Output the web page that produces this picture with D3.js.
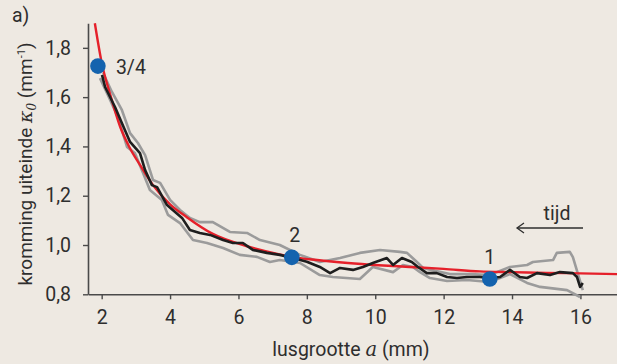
<!DOCTYPE html>
<html><head><meta charset="utf-8">
<script src="https://cdn.jsdelivr.net/npm/d3@7"></script>
<style>
html,body{margin:0;padding:0;background:#EEE9E2;}
svg{display:block;font-family:Roboto,"Noto Sans",sans-serif;}
</style></head><body>
<svg id="c" width="617" height="364"></svg>
<script>
// ---- data ----
const xTicks = [2, 4, 6, 8, 10, 12, 14, 16];
const yTicks = [0.8, 1.0, 1.2, 1.4, 1.6, 1.8];

// black: mean curve  [a, kappa]
const blackA = [2.01,2.10,2.39,2.59,2.83,3.12,3.27,3.47,3.62,3.91,4.35,4.58,4.87,5.17,5.55,5.84,6.13,6.42,6.83,7.21,7.59,8.00,8.38,8.68,8.97,9.35,9.64,9.93,10.34,10.52,10.78,11.07,11.25,11.51,11.80,12.10,12.39,12.68,13.06,13.35,13.65,13.94,14.23,14.44,14.73,15.11,15.40,15.78,15.90,15.99,16.07];
const blackK = [1.690,1.641,1.560,1.495,1.418,1.373,1.304,1.243,1.235,1.162,1.110,1.061,1.049,1.041,1.020,1.008,1.008,0.980,0.968,0.960,0.947,0.932,0.911,0.886,0.907,0.899,0.911,0.927,0.947,0.919,0.947,0.931,0.911,0.886,0.886,0.870,0.866,0.870,0.870,0.866,0.870,0.899,0.870,0.866,0.886,0.878,0.890,0.886,0.870,0.830,0.846];

// grey upper band
const upperA = [2.04,2.30,2.59,2.83,3.06,3.27,3.50,3.71,4.00,4.29,4.58,4.87,5.25,5.75,6.25,6.63,7.21,7.80,8.38,8.97,9.55,10.14,10.72,10.93,11.22,11.40,11.75,12.18,12.77,13.35,13.94,14.44,14.61,15.20,15.31,15.69,15.78,16.07];
const upperK = [1.698,1.621,1.548,1.454,1.414,1.365,1.264,1.252,1.183,1.142,1.110,1.093,1.093,1.053,1.049,1.020,1.000,0.960,0.931,0.947,0.968,0.980,0.972,0.968,0.931,0.907,0.895,0.882,0.882,0.878,0.911,0.919,0.931,0.939,0.968,0.972,0.951,0.817];

// grey lower band
const lowerA = [1.95,2.18,2.45,2.59,2.74,2.97,3.21,3.41,3.76,3.94,4.29,4.67,5.08,5.55,6.04,6.54,6.92,7.21,7.80,8.38,8.76,9.55,9.93,10.52,10.81,11.10,11.31,11.60,12.10,12.68,13.35,13.94,14.44,14.82,15.61,15.99];
const lowerK = [1.677,1.609,1.527,1.467,1.398,1.373,1.292,1.223,1.183,1.122,1.089,1.020,1.008,0.988,0.960,0.952,0.931,0.939,0.927,0.878,0.870,0.862,0.911,0.890,0.919,0.911,0.890,0.866,0.854,0.858,0.850,0.882,0.846,0.830,0.817,0.789];

// red fitted curve
const redA = [1.80,2.00,2.25,2.54,2.80,3.12,3.50,4.00,4.50,5.25,6.25,7.20,7.56,8.30,9.20,10.10,11.00,12.00,13.06,14.00,15.00,16.00,17.07];
const redK = [1.900,1.740,1.610,1.480,1.400,1.325,1.243,1.165,1.112,1.045,0.995,0.962,0.952,0.939,0.927,0.918,0.911,0.903,0.893,0.890,0.887,0.885,0.882];

// marked points
const dotLabels = ["3/4", "2", "1"];
const dotA = [1.89, 7.56, 13.35];
const dotK = [1.726, 0.950, 0.862];

// ---- drawing ----
const svg = d3.select("#c");
const x = d3.scaleLinear().domain([1.6, 17.07]).range([88, 617]);
const y = d3.scaleLinear().domain([0.8, 1.9]).range([294.3, 23.2]);
const ink = "#2e2e2e";
const fmt = d => d3.format(".1f")(d).replace(".", ",");

const xAxis = svg.append("g").attr("transform", `translate(0,${y(0.8)})`)
  .call(d3.axisBottom(x).tickValues(xTicks).tickSize(5).tickSizeOuter(0).tickPadding(11));
const yAxis = svg.append("g").attr("transform", `translate(${x(1.6)},0)`)
  .call(d3.axisLeft(y).tickValues(yTicks).tickFormat(fmt).tickSize(5).tickSizeOuter(0).tickPadding(12));
[xAxis, yAxis].forEach(g => {
  g.select(".domain").attr("stroke", "#4a4a4a").attr("stroke-width", 1.6);
  g.selectAll(".tick line").attr("stroke", "#4a4a4a").attr("stroke-width", 1.4);
  g.selectAll(".tick text").attr("fill", ink).attr("font-size", 19.5).attr("font-family", "Roboto");
});

const line = (A, K) => d3.line().x((d, i) => x(A[i])).y((d, i) => y(K[i]))(A);
const plot = svg.append("g");
plot.append("path").attr("d", line(upperA, upperK)).attr("fill", "none").attr("stroke", "#9b9b9b").attr("stroke-width", 2.6).attr("stroke-linejoin", "round");
plot.append("path").attr("d", line(lowerA, lowerK)).attr("fill", "none").attr("stroke", "#9b9b9b").attr("stroke-width", 2.6).attr("stroke-linejoin", "round");
plot.append("path").attr("d", d3.line().curve(d3.curveMonotoneX).x((d, i) => x(redA[i])).y((d, i) => y(redK[i]))(redA))
  .attr("fill", "none").attr("stroke", "#e5202a").attr("stroke-width", 2.4);
plot.append("path").attr("d", line(blackA, blackK)).attr("fill", "none").attr("stroke", "#1e1e1e").attr("stroke-width", 2.6).attr("stroke-linejoin", "round");

// dots
dotA.forEach((a, i) => {
  plot.append("circle").attr("cx", x(a)).attr("cy", y(dotK[i])).attr("r", 7.8).attr("fill", "#1463ae");
});
const labOff = [[18, 8], [3, -15], [0, -15]];
dotLabels.forEach((t, i) => {
  svg.append("text").attr("x", x(dotA[i]) + labOff[i][0]).attr("y", y(dotK[i]) + labOff[i][1])
    .attr("text-anchor", i === 0 ? "start" : "middle").attr("font-size", 19.5).attr("fill", ink).text(t);
});

// panel letter
svg.append("text").attr("x", 12).attr("y", 22).attr("font-size", 19.5).attr("fill", ink).text("a)");

// time arrow
svg.append("text").attr("x", 557).attr("y", 220).attr("text-anchor", "middle").attr("font-size", 19.5).attr("fill", ink).text("tijd");
svg.append("line").attr("x1", 517).attr("x2", 583).attr("y1", 228).attr("y2", 228).attr("stroke", ink).attr("stroke-width", 1.3);
svg.append("path").attr("d", "M524,223 L517,228 L524,233").attr("fill", "none").attr("stroke", ink).attr("stroke-width", 1.3);

// x axis label
const xl = svg.append("text").attr("x", 351).attr("y", 356).attr("text-anchor", "middle").attr("font-size", 19.5).attr("fill", ink);
xl.append("tspan").text("lusgrootte ");
xl.append("tspan").attr("font-family", "DejaVu Serif").attr("font-style", "italic").text("a");
xl.append("tspan").text(" (mm)");

// y axis label
const yl = svg.append("text").attr("transform", "translate(32,164) rotate(-90)").attr("text-anchor", "middle").attr("font-size", 19).attr("fill", ink);
yl.append("tspan").text("kromming uiteinde ");
yl.append("tspan").attr("font-family", "DejaVu Serif").attr("font-style", "italic").text("κ");
yl.append("tspan").attr("font-family", "DejaVu Serif").attr("font-style", "italic").attr("font-size", 12).attr("dy", 4).text("0");
yl.append("tspan").attr("dy", -4).text(" (mm");
yl.append("tspan").attr("font-size", 11).attr("dy", -7).text("-1");
yl.append("tspan").attr("dy", 7).text(")");
</script>
</body></html>
